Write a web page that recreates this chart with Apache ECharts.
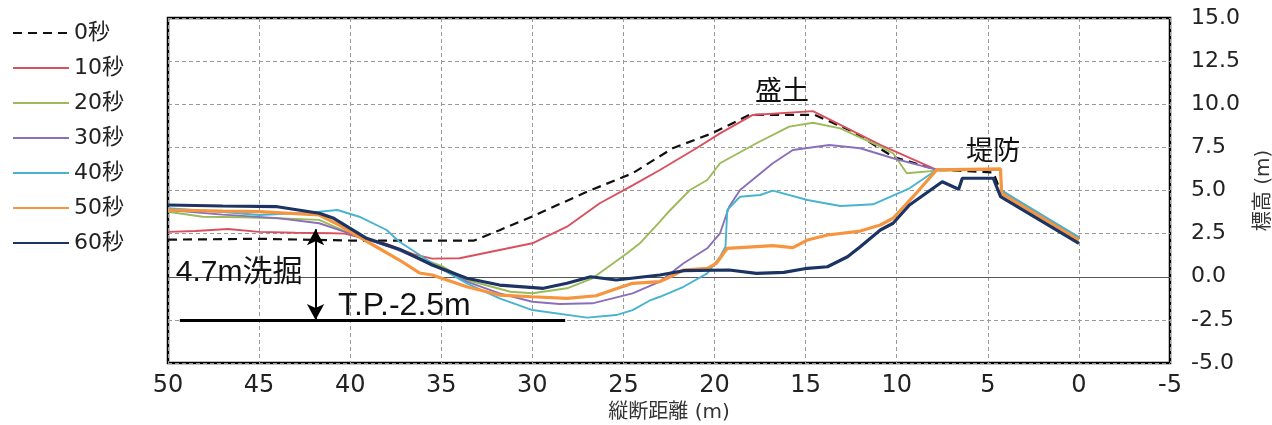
<!DOCTYPE html>
<html>
<head>
<meta charset="utf-8">
<script src="https://cdn.jsdelivr.net/npm/echarts@6/dist/echarts.min.js"></script>
<style>
  html, body { margin: 0; padding: 0; background: #fff; }
  #chart { width: 1272px; height: 425px; }
</style>
</head>
<body>
<div id="chart"></div>
<script>
// Longitudinal ground profile at each elapsed time: [distance (m), elevation (m)]
const seriesNames = ['0秒', '10秒', '20秒', '30秒', '40秒', '50秒', '60秒'];

const t0 = [[50,2.15],[45,2.2],[40,2.1],[35,2.1],[33.2,2.1],[31.8,2.7],[30,3.5],[27,4.93],[24.5,6.0],[22.3,7.45],[20.1,8.33],[18.1,9.38],[14.5,9.38],[12.4,8.41],[10.2,6.96],[8.7,6.48],[7.8,6.2],[4.7,6.05],[4.3,4.95],[0,2.15]];

const t10 = [[50,2.6],[48.5,2.65],[46.7,2.77],[45,2.6],[43,2.55],[41,2.52],[40.3,2.5],[38,1.9],[36.5,1.3],[35.5,1.05],[34,1.07],[31.8,1.55],[30,1.94],[28.1,2.9],[26.3,4.26],[24.5,5.3],[23,6.19],[21,7.45],[19.7,8.31],[17.9,9.38],[14.6,9.6],[10.9,7.64],[7.8,6.2],[4.3,6.2],[4.25,5.0],[0,2.2]];

const t20 = [[50,3.77],[48.1,3.48],[46,3.45],[44,3.39],[41.7,3.3],[40,2.5],[37.6,1.66],[34.9,0.58],[33.6,-0.19],[31.2,-0.87],[30,-0.96],[28.1,-0.67],[26.7,-0.09],[24.8,1.36],[24.1,1.94],[23,3.19],[22.6,3.68],[21.35,5.03],[20.4,5.61],[19.7,6.58],[17.7,7.74],[15.9,8.7],[14.6,8.93],[13.1,8.6],[10.9,7.54],[10.2,7.16],[9.45,6.0],[7.8,6.15],[4.3,6.2],[4.25,5.0],[0,2.25]];

const t30 = [[50,3.87],[47,3.6],[44,3.4],[41.7,3.1],[40,2.5],[37.5,1.6],[35.5,0.7],[33.6,-0.28],[31.8,-0.96],[30,-1.45],[28.5,-1.58],[26.7,-1.54],[24.5,-0.96],[23,-0.28],[21.7,0.78],[20.4,1.65],[19.7,2.52],[19.2,4.06],[18.6,5.03],[16.8,6.58],[15.7,7.35],[13.7,7.64],[12.0,7.45],[10.2,6.87],[7.8,6.2],[4.3,6.2],[4.25,4.95],[0,2.2]];

const t40 = [[50,3.97],[47,3.75],[45,3.58],[42.5,3.7],[41.7,3.77],[40.7,3.87],[39.5,3.48],[38.0,2.71],[37.3,2.03],[36.6,1.55],[35.5,0.78],[33.6,-0.38],[31.8,-1.25],[30,-1.93],[27,-2.37],[25.4,-2.22],[24.5,-1.93],[23.5,-1.35],[23,-1.16],[21.7,-0.58],[20.4,0.2],[19.7,1.16],[19.4,1.74],[19.3,3.87],[18.6,4.64],[17.5,4.74],[16.8,4.99],[14.9,4.45],[13.1,4.1],[12.0,4.16],[11.3,4.2],[9.3,5.13],[7.8,6.2],[4.3,6.2],[4.25,5.0],[0,2.3]];

const t50 = [[50,3.87],[47,3.8],[45,3.77],[41.7,3.58],[40.6,2.99],[39,2.0],[37.3,0.97],[36.2,0.22],[35.5,0.1],[33.6,-0.58],[31.8,-1.06],[30,-1.16],[28.1,-1.25],[26.5,-1.1],[25.6,-0.77],[24.5,-0.38],[23,-0.28],[22.6,-0.09],[21.7,0.39],[20.4,0.49],[19.9,0.78],[19.3,1.65],[16.8,1.8],[15.7,1.69],[14.9,2.13],[13.8,2.42],[12.0,2.65],[10.9,3.0],[10.2,3.39],[9.1,4.64],[7.8,6.2],[4.3,6.25],[4.25,4.84],[0,2.13]];

const t60 = [[50,4.16],[47,4.1],[44,4.06],[41.7,3.68],[40.9,3.39],[39.1,2.23],[37.3,1.6],[35.5,0.68],[33.6,-0.09],[31.8,-0.48],[29.4,-0.67],[28.1,-0.38],[26.8,0],[25.4,-0.19],[23,0.1],[21.7,0.35],[19.2,0.39],[17.7,0.2],[16.2,0.25],[14.9,0.49],[13.8,0.58],[12.7,1.16],[12.0,1.74],[10.9,2.71],[10.2,3.1],[9.3,4.16],[7.5,5.51],[6.6,5.07],[6.4,5.71],[4.7,5.71],[4.3,4.64],[0,1.94]];

const profiles = [t0, t10, t20, t30, t40, t50, t60];
const colors = ['#111111', '#d9505e', '#9bbb59', '#8a6fba', '#48b3cf', '#f7953f', '#1c3463'];
const widths = [2.2, 1.9, 1.9, 1.9, 1.9, 3.2, 3.2];

// Scour annotation: excavation level T.P.-2.5m and the depth arrow
const scourLevel = [[49.35, -2.5], [28.2, -2.5]];
const scourArrow = [[41.9, 2.75], [41.9, -2.5]];
const notes = [
  { text: '4.7m洗掘', at: [49.6, 0.25], size: 30, anchor: 'left' },
  { text: 'T.P.-2.5m', at: [40.7, -1.7], size: 32, anchor: 'left' },
  { text: '盛土', at: [16.3, 10.65], size: 27, anchor: 'center' },
  { text: '堤防', at: [4.7, 7.2], size: 27, anchor: 'center' }
];

const xTicks = { min: -5, max: 50, interval: 5 };
const yTicks = { min: -5, max: 15, interval: 2.5 };

const NUM_FONT = '"DejaVu Sans", "Noto Sans CJK JP", sans-serif';
const TEXT_FONT = '"Liberation Sans", "Noto Sans CJK JP", sans-serif';

const chart = echarts.init(document.getElementById('chart'), null, { renderer: 'canvas' });

const lineSeries = seriesNames.map((name, i) => ({
  name: name,
  type: 'line',
  data: profiles[i],
  showSymbol: false,
  symbol: 'none',
  smooth: false,
  color: colors[i],
  lineStyle: {
    color: colors[i],
    width: widths[i],
    type: i === 0 ? [9, 6] : 'solid'
  },
  z: 3 + i
}));

const annotationSeries = [
  {
    name: 'zero',
    type: 'line',
    data: [],
    silent: true,
    markLine: {
      silent: true,
      symbol: 'none',
      label: { show: false },
      lineStyle: { color: '#555', width: 1.2, type: 'solid' },
      data: [{ yAxis: 0 }]
    },
    z: 2
  },
  {
    name: 'level',
    type: 'line',
    data: [],
    silent: true,
    markLine: {
      silent: true,
      symbol: 'none',
      label: { show: false },
      lineStyle: { color: '#000', width: 3, type: 'solid' },
      data: [[{ coord: scourLevel[0] }, { coord: scourLevel[1] }]]
    },
    z: 12
  },
  {
    name: 'arrow',
    type: 'line',
    data: [],
    silent: true,
    markLine: {
      silent: true,
      symbol: ['arrow', 'arrow'],
      symbolSize: [13, 16],
      label: { show: false },
      lineStyle: { color: '#000', width: 2, type: 'solid' },
      data: [[{ coord: scourArrow[0] }, { coord: scourArrow[1] }]]
    },
    z: 12
  },
  {
    name: 'notes',
    type: 'line',
    data: [],
    silent: true,
    markPoint: {
      silent: true,
      symbol: 'circle',
      symbolSize: 1,
      itemStyle: { color: 'rgba(0,0,0,0)' },
      data: notes.map(n => ({
        name: n.text,
        coord: n.at,
        label: {
          show: true,
          formatter: '{b}',
          position: n.anchor === 'left' ? 'right' : 'inside',
          distance: 0,
          color: '#111',
          fontSize: n.size,
          fontFamily: TEXT_FONT
        }
      }))
    },
    z: 13
  }
];

chart.setOption({
  animation: false,
  backgroundColor: '#ffffff',
  legend: {
    data: seriesNames,
    orient: 'vertical',
    left: 7,
    top: 17,
    itemWidth: 56,
    itemHeight: 14,
    itemGap: 13,
    itemStyle: { opacity: 0 },
    textStyle: { color: '#222', fontSize: 22, fontFamily: NUM_FONT, lineHeight: 22 }
  },
  grid: {
    left: 168,
    right: 102,
    top: 18,
    bottom: 62,
    show: true,
    borderColor: '#000',
    borderWidth: 2.5,
    containLabel: false,
    outerBoundsMode: 'none'
  },
  xAxis: {
    type: 'value',
    inverse: true,
    min: xTicks.min,
    max: xTicks.max,
    interval: xTicks.interval,
    name: '縦断距離 (m)',
    nameLocation: 'middle',
    nameGap: 37,
    nameTextStyle: { color: '#333', fontSize: 20, fontFamily: NUM_FONT },
    axisLine: { show: false },
    axisTick: { show: false },
    axisLabel: { color: '#222', fontSize: 24, margin: 11, fontFamily: NUM_FONT },
    splitLine: { show: true, lineStyle: { color: '#9a9a9a', width: 1, type: [4, 3] } }
  },
  yAxis: {
    type: 'value',
    position: 'right',
    min: yTicks.min,
    max: yTicks.max,
    interval: yTicks.interval,
    name: '標高 (m)',
    nameLocation: 'middle',
    nameRotate: 90,
    nameGap: 84,
    nameTextStyle: { color: '#333', fontSize: 20, fontFamily: NUM_FONT },
    axisLine: { show: false },
    axisTick: { show: false },
    axisLabel: {
      color: '#222', fontSize: 22, margin: 21, fontFamily: NUM_FONT,
      formatter: v => v.toFixed(1)
    },
    splitLine: { show: true, lineStyle: { color: '#9a9a9a', width: 1, type: [4, 3] } }
  },
  series: lineSeries.concat(annotationSeries)
});
</script>
</body>
</html>
